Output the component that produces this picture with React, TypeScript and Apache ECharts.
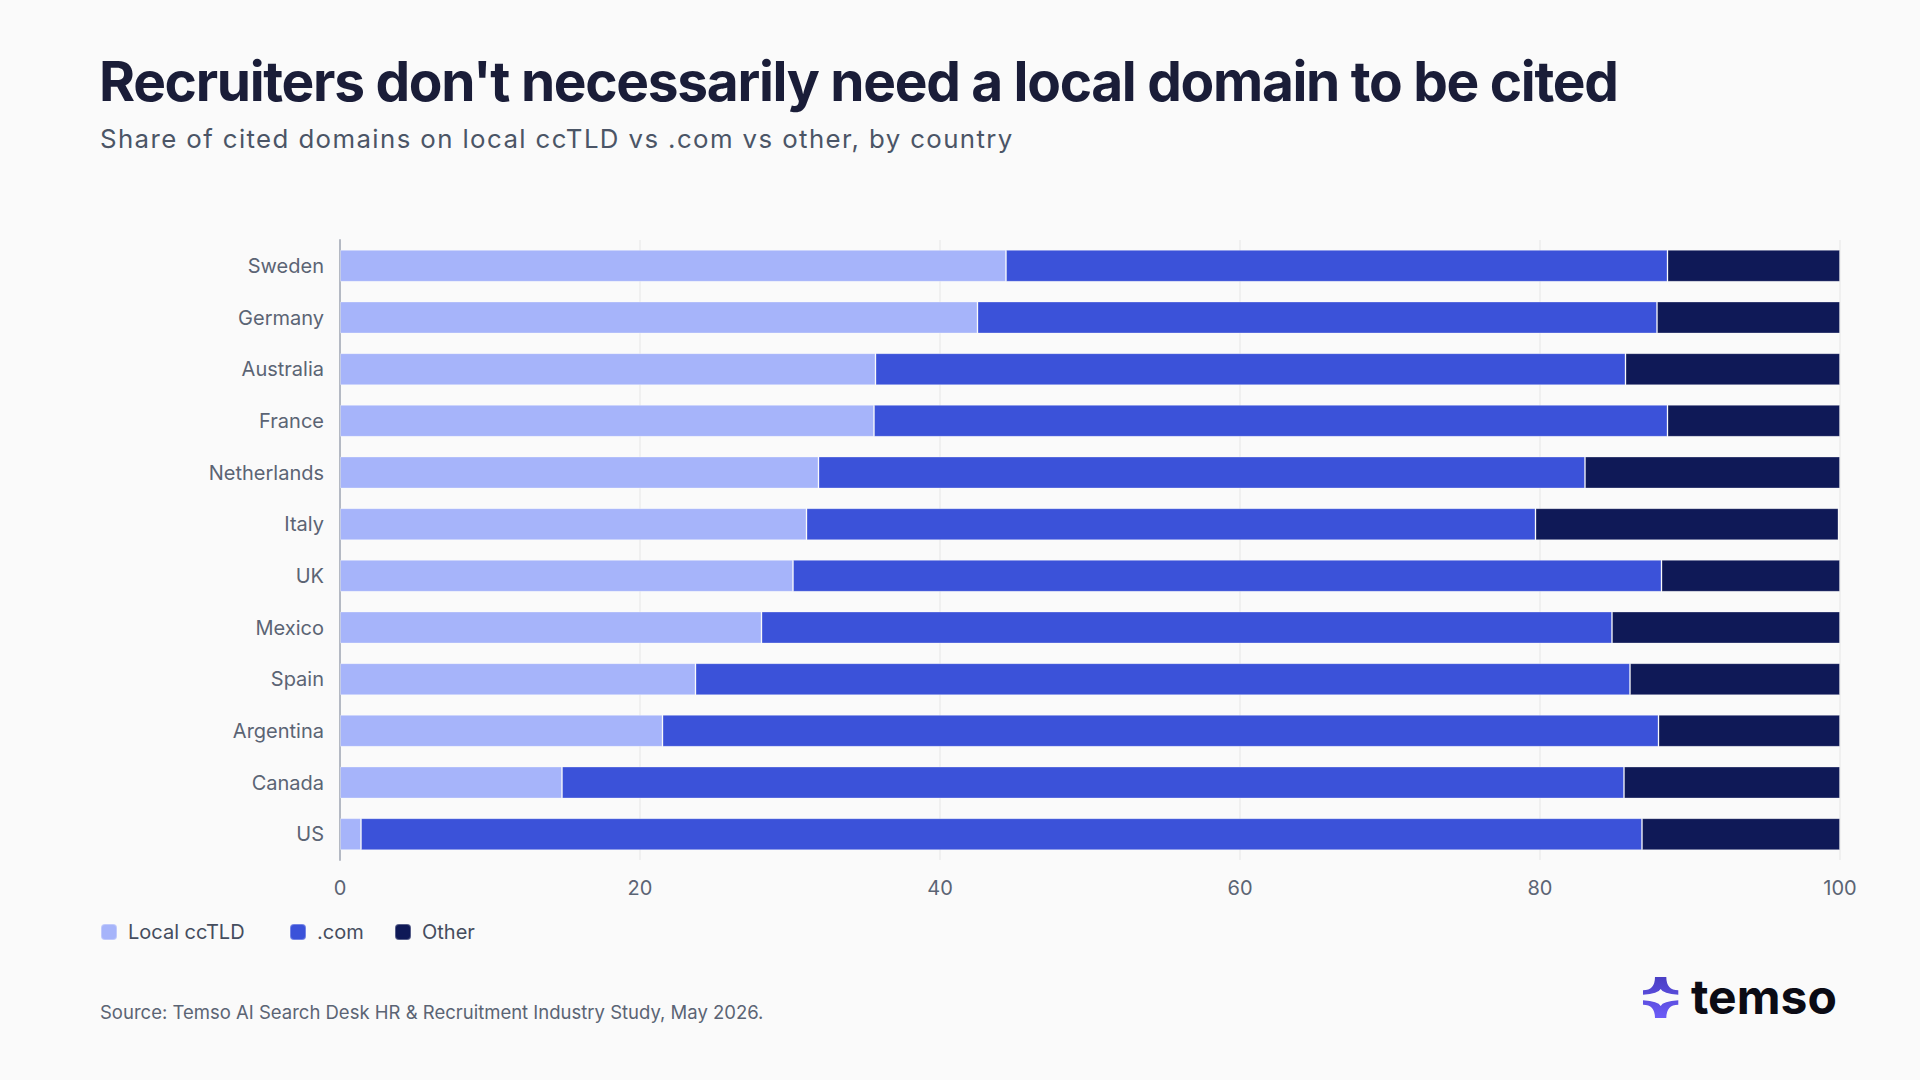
import React, { useEffect, useRef } from "react";
import * as echarts from "echarts";

const countries = ["Sweden", "Germany", "Australia", "France", "Netherlands", "Italy", "UK", "Mexico", "Spain", "Argentina", "Canada", "US"];
const localCcTLD = [44.4, 42.5, 35.7, 35.6, 31.9, 31.1, 30.2, 28.1, 23.7, 21.5, 14.8, 1.4];
const dotCom = [44.1, 45.3, 50.0, 52.9, 51.1, 48.6, 57.9, 56.7, 62.3, 66.4, 70.8, 85.4];
const other = [11.5, 12.2, 14.3, 11.5, 17.0, 20.2, 11.9, 15.2, 14.0, 12.1, 14.4, 13.2];
const seriesNames = ["Local ccTLD", ".com", "Other"];
const seriesColors = ["#a6b4fa", "#3b52d9", "#0f1957"];

const TITLE = "Recruiters don't necessarily need a local domain to be cited";
const SUBTITLE = "Share of cited domains on local ccTLD vs .com vs other, by country";
const SOURCE = "Source: Temso AI Search Desk HR & Recruitment Industry Study, May 2026.";

const MARK_PATH =
  "M36,0 L70,0 Q70,40 106,40 L106,53 Q60,50 53,36 Q46,50 0,53 L0,40 Q36,40 36,0 Z " +
  "M36,123 L70,123 Q70,83 106,83 L106,70 Q60,73 53,87 Q46,73 0,70 L0,83 Q36,83 36,123 Z";
echarts.graphic.registerShape("temsoMark", echarts.graphic.extendPath(MARK_PATH, {}));

const FONT = "Inter, 'Noto Sans', sans-serif";

function applySpacing(root: HTMLElement | null) {
  if (!root) return;
  root.querySelectorAll("text").forEach((t) => {
    const s = t.textContent || "";
    if (s === TITLE) t.setAttribute("letter-spacing", "-1.3");
    else if (s === SUBTITLE) t.setAttribute("letter-spacing", "1.4");
  });
}

export default function App() {
  const ref = useRef<HTMLDivElement>(null);
  useEffect(() => {
    document.body.style.margin = "0";
    const chart = echarts.init(ref.current!, undefined, { renderer: "svg" });
    const data = [localCcTLD, dotCom, other];
    const legendX = [100, 289, 394];
    chart.on("finished", () => applySpacing(ref.current));
    chart.setOption({
      animation: false,
      backgroundColor: "#fafafa",
      textStyle: { fontFamily: FONT },
      title: [
        {
          text: TITLE,
          left: 99,
          top: 53,
          padding: 0,
          textStyle: { fontFamily: FONT, fontSize: 55, lineHeight: 55, fontWeight: 700, color: "#1a1d38" },
        },
        {
          text: SUBTITLE,
          left: 100,
          top: 125,
          padding: 0,
          textStyle: { fontFamily: FONT, fontSize: 25.8, lineHeight: 26, fontWeight: 400, color: "#4b5566" },
        },
      ],
      legend: seriesNames.map((n, i) => ({
        data: [n],
        left: legendX[i],
        top: 922,
        padding: 0,
        itemWidth: 16,
        itemHeight: 16,
        icon: "roundRect",
        selectedMode: false,
        textStyle: { fontFamily: FONT, fontSize: 20, color: "#454d5e", padding: [0, 0, 0, 6] },
      })),
      grid: { left: 340, right: 80, top: 240, bottom: 220, containLabel: false },
      xAxis: {
        type: "value",
        min: 0,
        max: 100,
        interval: 20,
        axisLine: { show: false },
        axisTick: { show: false },
        splitLine: { show: true, lineStyle: { color: "#ececec", width: 1.5 } },
        axisLabel: { color: "#5b6474", fontSize: 20, margin: 18, fontFamily: FONT },
      },
      yAxis: {
        type: "category",
        data: countries,
        inverse: true,
        axisLine: { show: true, lineStyle: { color: "#b4b9c3", width: 2 } },
        axisTick: { show: false },
        splitLine: { show: false },
        axisLabel: { color: "#5b6474", fontSize: 20, margin: 16, fontFamily: FONT },
      },
      series: seriesNames.map((n, i) => ({
        name: n,
        type: "bar",
        stack: "total",
        barWidth: 32,
        data: data[i],
        itemStyle: { color: seriesColors[i], borderColor: "rgba(255,255,255,0.3)", borderWidth: 1 },
        emphasis: { disabled: true },
      })),
      graphic: [
        {
          type: "text",
          x: 100,
          y: 1012,
          style: { text: SOURCE, fontFamily: FONT, fontSize: 18.5, fill: "#5b6474", verticalAlign: "middle", align: "left" },
        },
        {
          type: "temsoMark",
          x: 1643,
          y: 977,
          scaleX: 1 / 3,
          scaleY: 1 / 3,
          style: {
            fill: new echarts.graphic.LinearGradient(0, 0, 0, 1, [
              { offset: 0, color: "#4a3fc4" },
              { offset: 1, color: "#6c5cf7" },
            ]),
          },
        },
        {
          type: "text",
          x: 1691,
          y: 996,
          style: { text: "temso", fontFamily: FONT, fontSize: 48, fontWeight: 700, fill: "#0b0b14", verticalAlign: "middle", align: "left" },
        },
      ],
    });
    applySpacing(ref.current);
    const raf = requestAnimationFrame(() => applySpacing(ref.current));
    return () => {
      cancelAnimationFrame(raf);
      chart.dispose();
    };
  }, []);
  return <div ref={ref} style={{ width: 1920, height: 1080 }} />;
}
